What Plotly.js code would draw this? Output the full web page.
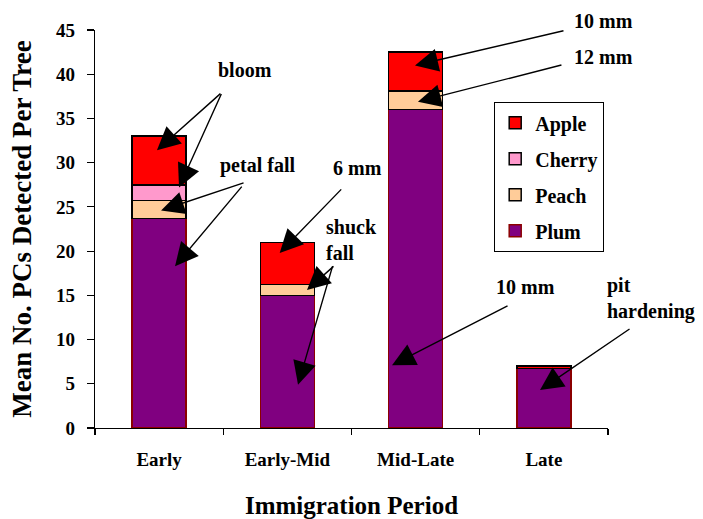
<!DOCTYPE html>
<html>
<head>
<meta charset="utf-8">
<script src="https://cdn.plot.ly/plotly-3.0.1.min.js"></script>
<style>html,body{margin:0;padding:0;background:#fff}#chart{width:703px;height:519px}</style>
</head>
<body>
<div id="chart"></div>
<script>
const categories = ["Early", "Early-Mid", "Mid-Late", "Late"];
const plum   = [23.7, 15.0, 36.0, 6.75];
const peach  = [2.0, 1.2, 2.1, null];
const cherry = [1.8, null, null, null];
const apple  = [5.5, 4.8, 4.4, 0.25];
const yTicks = [0, 5, 10, 15, 20, 25, 30, 35, 40, 45];

const F = "Liberation Serif, serif";
const W = 0.42;

function bar(name, y, color, lineColor, group, rank) {
  return {type: "bar", name: "<b>" + name + "</b>", x: categories, y: y, width: W,
    legendgroup: group, legendrank: rank,
    marker: {color: color, line: {color: lineColor, width: 1.5}}};
}
const traces = [
  bar("Plum", plum, "#800080", "#8B0000", "d", 4),
  bar("Peach", peach, "#FFCC99", "#000000", "c", 3),
  bar("Cherry", cherry, "#FF99CC", "#000000", "b", 2),
  bar("Apple", apple, "#FF0000", "#000000", "a", 1)
];

// plot area: x 95..608 px, y 30..428 px
function px(x) { return (x - 95) / 513; }
function py(y) { return (428 - y) / 398; }

const af = {family: F, size: 20, color: "#000"};
function label(text, x, y, align) {
  return {text: text, xref: "paper", yref: "paper", x: px(x), y: py(y),
    showarrow: false, font: af, align: align || "center",
    xanchor: align === "left" ? "left" : "center", yanchor: "middle"};
}
function arrow(xd, yd, ax, ay) {
  return {text: "", x: xd, y: yd, xref: "x", yref: "y", ax: ax, ay: ay,
    showarrow: true, arrowhead: 2, arrowsize: 3.3, arrowwidth: 1.4,
    arrowcolor: "#000", standoff: 0};
}

const annotations = [
  label("<b>bloom</b>", 245, 70),
  arrow(-0.017, 31.4, 65, -58),
  arrow(0.155, 27.2, 43, -95),
  label("<b>petal fall</b>", 257, 165),
  arrow(0.015, 24.6, 84, -28),
  arrow(0.124, 18.3, 68, -81),
  label("<b>6 mm</b>", 357, 168),
  arrow(0.94, 19.8, 63, -65),
  label("<b>shuck<br>fall</b>", 324, 240, "left"),
  arrow(1.153, 15.6, 28, -25),
  arrow(1.083, 4.9, 35, -120),
  label("<b>10 mm</b>", 603, 21),
  arrow(1.995, 41.0, 150, -35),
  label("<b>12 mm</b>", 603, 57),
  arrow(2.018, 36.9, 145, -37),
  label("<b>10 mm</b>", 525, 287),
  arrow(1.816, 7.1, 117, -60),
  label("<b>pit<br>hardening</b>", 605, 298, "left"),
  arrow(2.97, 4.3, 91, -62)
];

const layout = {
  width: 703, height: 519,
  margin: {l: 95, r: 95, t: 30, b: 91},
  paper_bgcolor: "#fff", plot_bgcolor: "#fff",
  barmode: "stack",
  showlegend: true,
  font: {family: F, color: "#000"},
  xaxis: {
    type: "category", range: [-0.5, 3.5],
    tickson: "boundaries", ticks: "outside", ticklen: 6, tickcolor: "#000", tickwidth: 1.2,
    showline: true, linecolor: "#000", linewidth: 1.2, showgrid: false, zeroline: false,
    tickfont: {family: F, size: 19, color: "#000"}, ticklabelstandoff: 14,
    tickvals: categories, ticktext: categories.map(c => "<b>" + c + "</b>"),
    title: {text: "<b>Immigration Period</b>", font: {family: F, size: 25, color: "#000"}, standoff: 27}
  },
  yaxis: {
    range: [0, 45], tickvals: yTicks, ticktext: yTicks.map(v => "<b>" + v + "</b>"),
    ticks: "outside", ticklen: 7, tickcolor: "#000", tickwidth: 1.2,
    showline: true, linecolor: "#000", linewidth: 1.2, showgrid: false, zeroline: false,
    tickfont: {family: F, size: 19, color: "#000"}, ticklabelstandoff: 8,
    title: {text: "<b>Mean No. PCs Detected Per Tree</b>", font: {family: F, size: 27, color: "#000"}, standoff: 16}
  },
  legend: {
    x: px(494), y: py(102), xanchor: "left", yanchor: "top",
    bordercolor: "#000", borderwidth: 1.2, bgcolor: "#fff",
    traceorder: "grouped", tracegroupgap: 7,
    font: {family: F, size: 20, color: "#000"}
  },
  annotations: annotations
};

Plotly.newPlot("chart", traces, layout, {displayModeBar: false, staticPlot: true});
</script>
</body>
</html>
